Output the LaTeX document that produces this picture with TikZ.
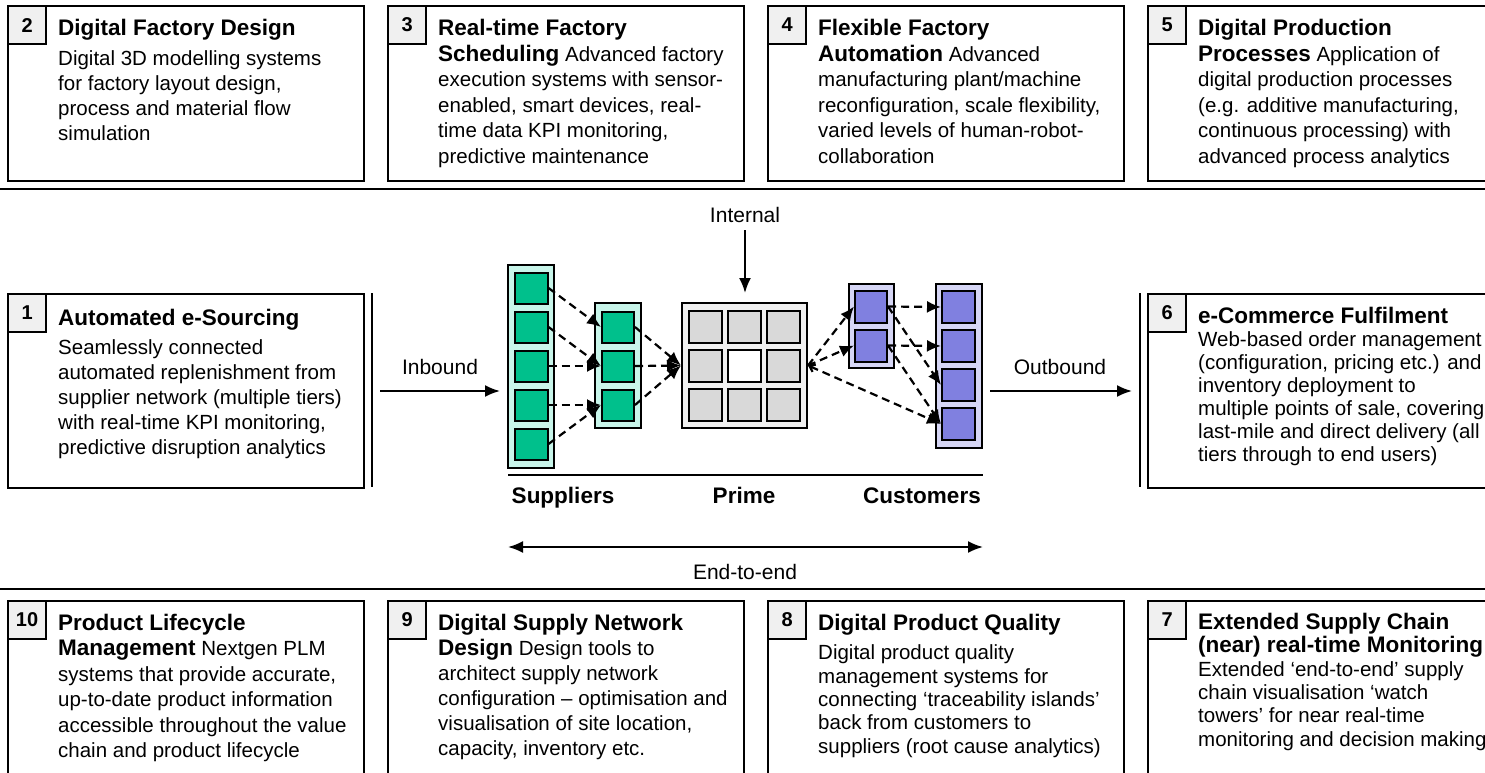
\documentclass[tikz,border=0pt]{standalone}
\usepackage{fontspec}
\setmainfont{Liberation Sans}
\usetikzlibrary{arrows.meta}

\definecolor{tabgray}{HTML}{F0F0F0}
\definecolor{mint}{HTML}{C8F5EA}
\definecolor{teal}{HTML}{00C08C}
\definecolor{lav}{HTML}{D6D6F5}
\definecolor{violet}{HTML}{8080E0}
\definecolor{cellgray}{HTML}{D9D9D9}
\definecolor{primebg}{HTML}{F0F0F0}

\newcommand\boxtitle[1]{{\fontsize{22.5}{25}\selectfont\bfseries #1}}

\begin{document}
\begin{tikzpicture}[x=1pt,y=-1pt,
  panel/.style={draw, line width=2.2pt, fill=white, anchor=north west,
    minimum width=356pt, inner sep=0pt},
  tab/.style={draw, line width=2.2pt, fill=tabgray, anchor=north west,
    minimum width=38pt, minimum height=38pt, inner sep=0pt,
    font=\fontsize{20}{24}\selectfont\bfseries},
  txt/.style={anchor=north west, align=left, inner sep=0pt,
    font=\fontsize{20.5}{#1}\selectfont},
  lbl/.style={inner sep=0pt, font=\fontsize{21}{25}\selectfont},
  tier/.style={inner sep=0pt, anchor=base, font=\fontsize{22.5}{25}\selectfont\bfseries},
  rule/.style={line width=2.5pt},
  gcol/.style={draw, line width=2pt, fill=mint, minimum width=46pt, inner sep=0pt},
  gsq/.style={draw, line width=2pt, fill=teal, minimum width=33pt, minimum height=31pt, inner sep=0pt},
  vcol/.style={draw, line width=2pt, fill=lav, minimum width=46pt, inner sep=0pt},
  vsq/.style={draw, line width=2pt, fill=violet, minimum width=32pt, minimum height=32pt, inner sep=0pt},
  cell/.style={draw, line width=2pt, fill=cellgray, minimum width=33pt, minimum height=32pt, inner sep=0pt},
  flow/.style={line width=2pt, -{Latex[length=15pt,width=12pt]}},
  dflow/.style={line width=2.2pt, dash pattern=on 8pt off 5pt, -{Latex[length=14pt,width=12pt]}}
]
\useasboundingbox (0,0) rectangle (1485,772);
\clip (0,0) rectangle (1485,772);

% ---------- top row ----------
\node[panel, minimum height=175pt] (b2) at (7,5) {};
\node[tab] (t2) at (b2.north west) {2};
\node[txt=25] (x2) at (58,19) {\boxtitle{Digital Factory Design}\\[5pt]
  Digital 3D modelling systems\\ for factory layout design,\\ process and material flow\\ simulation};

\node[panel, minimum height=175pt] (b3) at (387,5) {};
\node[tab] (t3) at (b3.north west) {3};
\node[txt=25.5] (x3) at (438,19) {\boxtitle{Real-time Factory}\\
  \boxtitle{Scheduling} Advanced factory\\ execution systems with sensor-\\ enabled, smart devices, real-\\
  time data KPI monitoring,\\ predictive maintenance};

\node[panel, minimum height=175pt] (b4) at (767,5) {};
\node[tab] (t4) at (b4.north west) {4};
\node[txt=25.5] (x4) at (818,19) {\boxtitle{Flexible Factory}\\
  \boxtitle{Automation} Advanced\\ manufacturing plant/machine\\ reconfiguration, scale flexibility,\\
  varied levels of human-robot-\\ collaboration};

\node[panel, minimum height=175pt] (b5) at (1147,5) {};
\node[tab] (t5) at (b5.north west) {5};
\node[txt=25.5] (x5) at (1198,19) {\boxtitle{Digital Production}\\
  \boxtitle{Processes} Application of\\ digital production processes\\ (e.g. additive manufacturing,\\
  continuous processing) with\\ advanced process analytics};

\draw[rule] (0,189) -- (1485,189);

% ---------- middle row ----------
\node[panel, minimum height=194pt] (b1) at (7,293) {};
\node[tab] (t1) at (b1.north west) {1};
\node[txt=25] (x1) at (58,309) {\boxtitle{Automated e-Sourcing}\\[4pt]
  Seamlessly connected\\ automated replenishment from\\ supplier network (multiple tiers)\\
  with real-time KPI monitoring,\\ predictive disruption analytics};
\draw[line width=2.2pt] (372,293) -- (372,487);

\node[panel, minimum height=194pt] (b6) at (1147,293) {};
\node[tab] (t6) at (b6.north west) {6};
\node[txt=23] (x6) at (1198,307) {\boxtitle{e-Commerce Fulfilment}\\
  Web-based order management\\ (configuration, pricing etc.) and\\ inventory deployment to\\
  multiple points of sale, covering\\ last-mile and direct delivery (all\\ tiers through to end users)};
\draw[line width=2.2pt] (1140,293) -- (1140,487);

% suppliers, first tier
\node[gcol, minimum height=203pt] (sc1) at (531,366.5) {};
\node[gsq] (s1) at (531,288) {};
\node[gsq] (s2) at (531,327) {};
\node[gsq] (s3) at (531,366) {};
\node[gsq] (s4) at (531,405) {};
\node[gsq] (s5) at (531,444) {};
% suppliers, second tier
\node[gcol, minimum height=125pt] (sc2) at (618,365.5) {};
\node[gsq, minimum width=32pt] (r1) at (618,327) {};
\node[gsq, minimum width=32pt] (r2) at (618,366) {};
\node[gsq, minimum width=32pt] (r3) at (618,405) {};
% prime
\node[draw, line width=2pt, fill=primebg, minimum width=125pt, minimum height=125pt, inner sep=0pt] (prime) at (744.5,365.5) {};
\node[cell] (p11) at (705.5,327) {};
\node[cell] (p12) at (744.5,327) {};
\node[cell] (p13) at (783.5,327) {};
\node[cell] (p21) at (705.5,366) {};
\node[cell, fill=white] (p22) at (744.5,366) {};
\node[cell] (p23) at (783.5,366) {};
\node[cell] (p31) at (705.5,405) {};
\node[cell] (p32) at (744.5,405) {};
\node[cell] (p33) at (783.5,405) {};
% customers, first tier
\node[vcol, minimum width=45pt, minimum height=84pt] (kc1) at (871.5,326) {};
\node[vsq] (k1) at (871,306.5) {};
\node[vsq] (k2) at (871,345.5) {};
% customers, second tier
\node[vcol, minimum height=164pt] (kc2) at (959,366) {};
\node[vsq, minimum width=33pt] (m1) at (958.5,307) {};
\node[vsq, minimum width=33pt] (m2) at (958.5,346) {};
\node[vsq, minimum width=33pt] (m3) at (958.5,385) {};
\node[vsq, minimum width=33pt] (m4) at (958.5,424) {};

% material flows
\draw[dflow] (s1.east) -- (r1.west);
\draw[dflow] (s2.east) -- (r2.west);
\draw[dflow] (s3.east) -- (r2.west);
\draw[dflow] (s4.east) -- (r3.west);
\draw[dflow] (s5.east) -- (r3.west);
\draw[dflow] (r1.east) -- (prime.west);
\draw[dflow] (r2.east) -- (prime.west);
\draw[dflow] (r3.east) -- (prime.west);
\draw[dflow] (prime.east) -- (k1.west);
\draw[dflow] (prime.east) -- (k2.west);
\draw[dflow, {Straight Barb[length=5pt,width=8pt]}-{Latex[length=14pt,width=12pt]}] (prime.east) -- (m4.west);
\draw[dflow] (k1.east) -- (m1.west);
\draw[dflow] (k1.east) -- (m3.west);
\draw[dflow] (k2.east) -- (m2.west);
\draw[dflow] (k2.east) -- (m4.west);

% inbound / internal / outbound
\coordinate (inL) at (380,391);
\coordinate (inR) at (500,391);
\draw[flow] (inL) -- (inR);
\node[lbl] (inb) at (440,367) {Inbound};

\coordinate (outL) at (990,391);
\coordinate (outR) at (1132,391);
\draw[flow] (outL) -- (outR);
\node[lbl] (outb) at (1060,367) {Outbound};

\node[lbl] (intl) at (745,215) {Internal};
\coordinate (intT) at (745,230);
\coordinate (intB) at (745,293);
\draw[flow] (intT) -- (intB);

% tiers
\draw[line width=2.5pt] (508,475) -- (983,475);
\node[tier] (tsup) at (563,503) {Suppliers};
\node[tier] (tpri) at (744,503) {Prime};
\node[tier] (tcus) at (922,503) {Customers};

% end-to-end span
\coordinate (eL) at (508,547);
\coordinate (eR) at (983,547);
\draw[line width=2pt, {Latex[length=15pt,width=12pt]}-{Latex[length=15pt,width=12pt]}] (eL) -- (eR);
\node[lbl] (e2e) at (745,572) {End-to-end};

\draw[rule] (0,589) -- (1485,589);

% ---------- bottom row ----------
\node[panel, minimum height=200pt] (b10) at (7,600) {};
\node[tab] (t10) at (b10.north west) {10};
\node[txt=25.4] (x10) at (58,614) {\boxtitle{Product Lifecycle}\\
  \boxtitle{Management} Nextgen PLM\\ systems that provide accurate,\\ up-to-date product information\\
  accessible throughout the value\\ chain and product lifecycle};

\node[panel, minimum height=200pt] (b9) at (387,600) {};
\node[tab] (t9) at (b9.north west) {9};
\node[txt=25] (x9) at (438,614) {\boxtitle{Digital Supply Network}\\
  \boxtitle{Design} Design tools to\\ architect supply network\\ configuration – optimisation and\\
  visualisation of site location,\\ capacity, inventory etc.};

\node[panel, minimum height=200pt] (b8) at (767,600) {};
\node[tab] (t8) at (b8.north west) {8};
\node[txt=23.3] (x8) at (818,614) {\boxtitle{Digital Product Quality}\\[6pt]
  Digital product quality\\ management systems for\\ connecting ‘traceability islands’\\
  back from customers to\\ suppliers (root cause analytics)};

\node[panel, minimum height=200pt] (b7) at (1147,600) {};
\node[tab] (t7) at (b7.north west) {7};
\node[txt=23.3] (x7) at (1198,613) {\boxtitle{Extended Supply Chain}\\
  \boxtitle{(near) real-time Monitoring}\\ Extended ‘end-to-end’ supply\\ chain visualisation ‘watch\\
  towers’ for near real-time\\ monitoring and decision making};
\end{tikzpicture}
\end{document}
